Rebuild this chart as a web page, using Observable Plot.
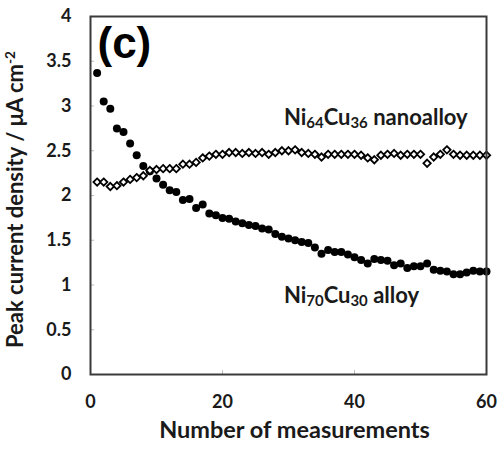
<!DOCTYPE html>
<html>
<head>
<meta charset="utf-8">
<script src="https://cdn.jsdelivr.net/npm/d3@7"></script>
<script src="https://cdn.jsdelivr.net/npm/@observablehq/plot@0.6"></script>
<style>
  html, body { margin: 0; padding: 0; background: #fff; }
  #chart svg { display: block; }
</style>
</head>
<body>
<div id="chart"></div>
<script>
// ---- data ----
const measurement = [1,2,3,4,5,6,7,8,9,10,11,12,13,14,15,16,17,18,19,20,
  21,22,23,24,25,26,27,28,29,30,31,32,33,34,35,36,37,38,39,40,
  41,42,43,44,45,46,47,48,49,50,51,52,53,54,55,56,57,58,59,60];

// Ni70Cu30 alloy (filled circles)
const alloyValues = [3.37,3.05,2.97,2.75,2.71,2.58,2.45,2.33,2.27,2.19,
  2.12,2.06,2.04,1.95,1.96,1.86,1.90,1.80,1.78,1.75,
  1.74,1.71,1.69,1.67,1.66,1.63,1.62,1.57,1.54,1.52,
  1.50,1.48,1.47,1.42,1.35,1.39,1.37,1.37,1.34,1.31,
  1.28,1.24,1.29,1.28,1.27,1.22,1.24,1.19,1.21,1.21,
  1.24,1.17,1.16,1.15,1.12,1.12,1.14,1.16,1.15,1.15];

// Ni64Cu36 nanoalloy (open diamonds)
const nanoValues = [2.15,2.15,2.10,2.11,2.15,2.18,2.20,2.22,2.28,2.29,
  2.30,2.30,2.30,2.35,2.35,2.37,2.42,2.44,2.46,2.46,
  2.48,2.48,2.47,2.48,2.47,2.48,2.46,2.48,2.50,2.50,
  2.51,2.48,2.47,2.46,2.43,2.46,2.46,2.46,2.46,2.46,
  2.45,2.42,2.40,2.45,2.46,2.47,2.45,2.46,2.46,2.46,
  2.36,2.43,2.46,2.51,2.46,2.45,2.45,2.45,2.45,2.45];

const xTicks = [0, 20, 40, 60];
const yTicks = [0, 0.5, 1, 1.5, 2, 2.5, 3, 3.5, 4];
const yTickLabels = ["0", "0.5", "1", "1.5", "2", "2.5", "3", "3.5", "4"];

const xTitle = "Number of measurements";
const yTitle = "Peak current density / \u03bcA cm-2";
const panelLabel = "(c)";
const nanoLabel = "Ni64Cu36 nanoalloy";
const alloyLabel = "Ni70Cu30 alloy";

const alloyData = measurement.map((m, i) => ({m, v: alloyValues[i]}));
const nanoData = measurement.map((m, i) => ({m, v: nanoValues[i]}));

const FONT = "Lato, 'Open Sans', sans-serif";

const chart = Plot.plot({
  width: 499,
  height: 450,
  marginLeft: 90,
  marginRight: 13,
  marginTop: 16,
  marginBottom: 76,
  style: {fontFamily: FONT, fontWeight: "bold", fontSize: "18px", color: "#1a1a1a", background: "#fff"},
  x: {domain: [0, 60]},
  y: {domain: [0, 4]},
  marks: [
    Plot.tickX(xTicks.slice(1, 3), {x: d => d, stroke: "#bbb", insetTop: 354}),
    Plot.tickY(yTicks.slice(1, 8), {y: d => d, stroke: "#bbb", insetRight: 392}),
    Plot.axisX({ticks: xTicks, tickSize: 0, tickPadding: 21, label: null, fontSize: 18}),
    Plot.axisY({ticks: yTicks, tickSize: 0, tickPadding: 19, label: null, fontSize: 18,
      tickFormat: d => yTickLabels[yTicks.indexOf(d)]}),
    Plot.dot(alloyData, {x: "m", y: "v", r: 4, fill: "#000", stroke: "none"}),
    Plot.dot(nanoData, {x: "m", y: "v", symbol: "diamond2", r: 3.3, fill: "#fff", stroke: "#000", strokeWidth: 1.8}),
    Plot.frame({stroke: "#3a3a3a", strokeWidth: 2}),
    Plot.text([panelLabel], {frameAnchor: "top-left", text: d => d, dx: 7, dy: 10, lineAnchor: "top",
      textAnchor: "start", fontSize: 44, fontWeight: "bold", fontFamily: "'Liberation Sans', Arial, sans-serif", fill: "#000"}),
    Plot.text([nanoLabel], {x: 29.3, y: 2.79, text: d => d, textAnchor: "start", lineAnchor: "bottom", fontSize: 22, fill: "#1a1a1a"}),
    Plot.text([alloyLabel], {x: 29.3, y: 0.80, text: d => d, textAnchor: "start", lineAnchor: "bottom", fontSize: 22, fill: "#1a1a1a"}),
    Plot.text([xTitle], {frameAnchor: "bottom", text: d => d, dx: 6, dy: 63, lineAnchor: "bottom", fontSize: 23.5, fill: "#1a1a1a"}),
    Plot.text([yTitle], {frameAnchor: "left", text: d => d, dx: -75, dy: 4, rotate: -90, lineAnchor: "middle", textAnchor: "middle", fontSize: 22, fill: "#1a1a1a"})
  ]
});

document.getElementById("chart").appendChild(chart);

// subscripts / superscripts as real text tspans
function richText(content, segments) {
  d3.select(chart).selectAll("text").filter(function() { return this.textContent === content; })
    .each(function() {
      const el = d3.select(this);
      el.text(null);
      segments.forEach(s => {
        const t = el.append("tspan").text(s.t);
        if (s.sub) t.attr("font-size", "0.68em").attr("baseline-shift", "-22%");
        if (s.sup) t.attr("font-size", "0.62em").attr("baseline-shift", "55%");
      });
    });
}
richText(nanoLabel, [{t: "Ni"}, {t: "64", sub: true}, {t: "Cu"}, {t: "36", sub: true}, {t: " nanoalloy"}]);
richText(alloyLabel, [{t: "Ni"}, {t: "70", sub: true}, {t: "Cu"}, {t: "30", sub: true}, {t: " alloy"}]);
richText(yTitle, [{t: "Peak current density / \u03bcA cm"}, {t: "-2", sup: true}]);
</script>
</body>
</html>
